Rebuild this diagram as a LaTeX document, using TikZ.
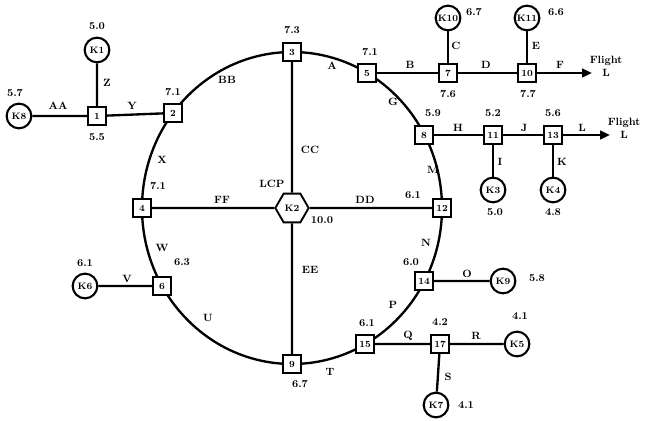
\documentclass[tikz,border=0pt]{standalone}
\usepackage{tikz}
\usetikzlibrary{shapes.geometric,arrows.meta}

\tikzset{
  site/.style={draw,line width=1.6pt,fill=white,minimum size=5.4mm,inner sep=0pt,font=\footnotesize\bfseries},
  base/.style={draw,circle,line width=1.8pt,fill=white,minimum size=7.4mm,inner sep=0pt,font=\footnotesize\bfseries},
  lcp/.style={draw,regular polygon,regular polygon sides=6,line width=1.6pt,fill=white,minimum size=10mm,inner sep=0pt,font=\footnotesize\bfseries},
  lbl/.style={font=\small\bfseries,inner sep=0pt},
  link/.style={line width=2pt},
}

\begin{document}
\begin{tikzpicture}[x=0.3mm,y=-0.3mm]
\useasboundingbox (0,0) rectangle (646,421);
\coordinate (O) at (292,208);
\coordinate (f1) at (592,73);
\coordinate (f2) at (610,135);
\draw[link] (O) ellipse [x radius=45mm, y radius=46.8mm];
\node[site] (n3) at (292,52) {3};
\node[site] (n5) at (367,73) {5};
\node[site] (n8) at (424,135) {8};
\node[site] (n12) at (442,208) {12};
\node[site] (n14) at (424,281) {14};
\node[site] (n15) at (365,344) {15};
\node[site] (n9) at (292,364) {9};
\node[site] (n6) at (162,286) {6};
\node[site] (n4) at (142,208) {4};
\node[site] (n2) at (173,113) {2};
\node[site] (n1) at (97,116) {1};
\node[site] (n7) at (448,73) {7};
\node[site] (n10) at (527,73) {10};
\node[site] (n11) at (493,135) {11};
\node[site] (n13) at (553,135) {13};
\node[site] (n17) at (440,344) {17};
\node[lcp] (k2) at (292,208) {K2};
\node[base] (k8) at (19,116) {K8};
\node[base] (k1) at (97,50) {K1};
\node[base] (k10) at (448,18) {K10};
\node[base] (k11) at (527,18) {K11};
\node[base] (k3) at (493,190) {K3};
\node[base] (k4) at (553,190) {K4};
\node[base] (k9) at (503,281) {K9};
\node[base] (k5) at (517,344) {K5};
\node[base] (k7) at (436,405) {K7};
\node[base] (k6) at (85,286) {K6};
\draw[link] (k8)--(n1) (n1)--(n2) (n1)--(k1);
\draw[link] (n3)--(k2) (n4)--(k2) (k2)--(n12) (k2)--(n9);
\draw[link] (n5)--(n7) (n7)--(n10) (n7)--(k10) (n10)--(k11);
\draw[link] (n8)--(n11) (n11)--(n13) (n11)--(k3) (n13)--(k4);
\draw[link] (n14)--(k9) (n15)--(n17) (n17)--(k5) (n17)--(k7) (n6)--(k6);
\draw[link,-{Triangle[length=3mm,width=2.6mm]}] (n10)--(f1);
\draw[link,-{Triangle[length=3mm,width=2.6mm]}] (n13)--(f2);
\node[lbl,align=center] (fl1) at (606,66) {Flight\\L};
\node[lbl,align=center] (fl2) at (624,128) {Flight\\L};
\node[lbl] (lAA) at (58,106) {AA};
\node[lbl] (lY) at (132,106) {Y};
\node[lbl] (lZ) at (107,83) {Z};
\node[lbl] (lBB) at (227,80) {BB};
\node[lbl] (lA) at (332,66) {A};
\node[lbl] (lB) at (410,65) {B};
\node[lbl] (lD) at (486,65) {D};
\node[lbl] (lF) at (560,65) {F};
\node[lbl] (lC) at (456,46) {C};
\node[lbl] (lE) at (536,46) {E};
\node[lbl] (lG) at (393,102) {G};
\node[lbl] (lH) at (458,128) {H};
\node[lbl] (lJ) at (524,128) {J};
\node[lbl] (lL) at (582,128) {L};
\node[lbl] (lI) at (500,162) {I};
\node[lbl] (lK) at (562,162) {K};
\node[lbl] (lCC) at (310,150) {CC};
\node[lbl] (lFF) at (222,200) {FF};
\node[lbl] (lDD) at (365,200) {DD};
\node[lbl] (lEE) at (310,270) {EE};
\node[lbl] (lM) at (433,170) {M};
\node[lbl] (lN) at (426,243) {N};
\node[lbl] (lO) at (467,274) {O};
\node[lbl] (lP) at (393,305) {P};
\node[lbl] (lQ) at (408,336) {Q};
\node[lbl] (lR) at (476,336) {R};
\node[lbl] (lS) at (448,377) {S};
\node[lbl] (lT) at (330,372) {T};
\node[lbl] (lU) at (208,318) {U};
\node[lbl] (lV) at (127,279) {V};
\node[lbl] (lW) at (162,248) {W};
\node[lbl] (lX) at (162,160) {X};
\node[lbl] (vk8) at (15,93) {5.7};
\node[lbl] (vk1) at (97,26) {5.0};
\node[lbl] (v1) at (97,137) {5.5};
\node[lbl] (v2) at (173,92) {7.1};
\node[lbl] (v3) at (292,30) {7.3};
\node[lbl] (v5) at (370,52) {7.1};
\node[lbl] (v7) at (448,94) {7.6};
\node[lbl] (vk10) at (474,12) {6.7};
\node[lbl] (v10) at (528,94) {7.7};
\node[lbl] (vk11) at (556,12) {6.6};
\node[lbl] (v8) at (433,113) {5.9};
\node[lbl] (v11) at (493,113) {5.2};
\node[lbl] (v13) at (553,113) {5.6};
\node[lbl] (vk3) at (495,212) {5.0};
\node[lbl] (vk4) at (553,212) {4.8};
\node[lbl] (v12) at (413,195) {6.1};
\node[lbl] (v4) at (158,186) {7.1};
\node[lbl] (lcpname) at (272,184) {LCP};
\node[lbl] (vk2) at (322,220) {10.0};
\node[lbl] (v14) at (411,262) {6.0};
\node[lbl] (vk9) at (537,278) {5.8};
\node[lbl] (v6) at (182,262) {6.3};
\node[lbl] (vk6) at (85,263) {6.1};
\node[lbl] (v15) at (367,323) {6.1};
\node[lbl] (v17) at (440,322) {4.2};
\node[lbl] (vk5) at (520,316) {4.1};
\node[lbl] (vk7) at (466,405) {4.1};
\node[lbl] (v9) at (300,384) {6.7};
\end{tikzpicture}
\end{document}
